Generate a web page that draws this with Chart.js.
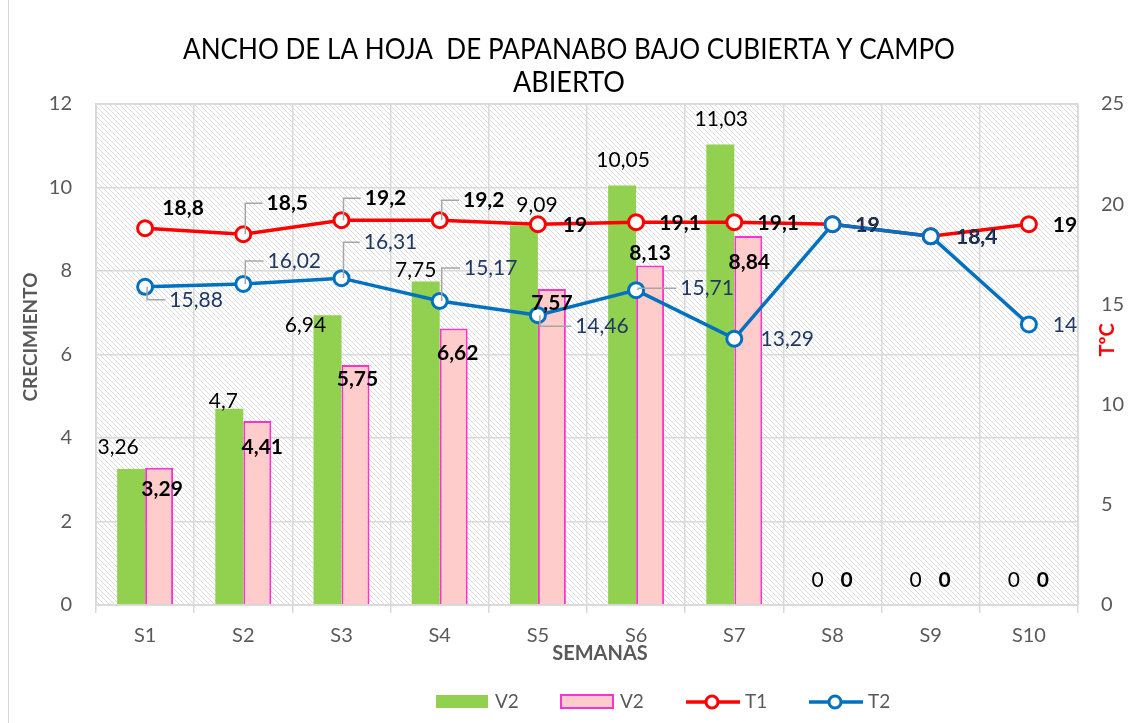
<!DOCTYPE html>
<html>
<head>
<meta charset="utf-8">
<script src="https://cdn.jsdelivr.net/npm/chart.js"></script>
<style>
  body { margin: 0; background: #fff; }
  #myChart { display: block; }
</style>
</head>
<body>
<canvas id="myChart" width="1129" height="723"></canvas>
<script>
// datos
const semanas = ['S1', 'S2', 'S3', 'S4', 'S5', 'S6', 'S7', 'S8', 'S9', 'S10'];
const v2Verde = [3.26, 4.7, 6.94, 7.75, 9.09, 10.05, 11.03, 0, 0, 0];
const v2Rosa = [3.29, 4.41, 5.75, 6.62, 7.57, 8.13, 8.84, 0, 0, 0];
const t1 = [18.8, 18.5, 19.2, 19.2, 19, 19.1, 19.1, 19, 18.4, 19];
const t2 = [15.88, 16.02, 16.31, 15.17, 14.46, 15.71, 13.29, 19, 18.4, 14];
const ticksCrecimiento = { min: 0, max: 12, step: 2 };
const ticksTemp = { min: 0, max: 25, step: 5 };

const gris = '#595959';
const fuente = 'Lato, "Open Sans", sans-serif';
Chart.defaults.font.family = fuente;

// donde va cada etiqueta respecto a su barra / punto (dx, dy)
const offVerde = [[-13,-22],[-6,-8],[-22,10],[-10,-11],[13,-20],[1,-25],[1,-25],[-1,-25],[-1,-25],[-1,-25]];
const offRosa = [[3,22],[5,26],[2,14],[4,25],[0,14],[0,-12],[1,26],[0,-25],[0,-25],[0,-25]];
const offT1 = [[38,-20],[44,-31],[44,-22],[44,-20],[37,1],[44,1],[44,1],[35,1],[46,1],[36,1]];
const offT2 = [[51,13],[51,-23],[49,-36],[51,-33],[64,11],[71,-2],[53,1],[35,1],[46,1],[36,1]];
const guiaT1 = [false, true, true, true, false, false, false, false, false, false];
const guiaT2 = [true, true, true, true, true, true, false, false, false, false];

function numero(v) {
    return String(v).replace('.', ',');
}

function rayado(ctx) {
    const c = document.createElement('canvas');
    c.width = 5; c.height = 5;
    const g = c.getContext('2d');
    g.fillStyle = '#ffffff';
    g.fillRect(0, 0, 5, 5);
    g.strokeStyle = '#dcdcdc';
    g.lineWidth = 1;
    g.beginPath();
    g.moveTo(-1, -1); g.lineTo(6, 6);
    g.moveTo(-1, 4); g.lineTo(1, 6);
    g.moveTo(4, -1); g.lineTo(6, 1);
    g.stroke();
    return ctx.createPattern(c, 'repeat');
}

const fondo = {
    id: 'fondo',
    beforeDraw(chart) {
        const { ctx, chartArea: a } = chart;
        ctx.save();
        ctx.fillStyle = '#fff';
        ctx.fillRect(0, 0, chart.width, chart.height);
        ctx.fillStyle = rayado(ctx);
        ctx.fillRect(a.left, a.top, a.right - a.left, a.bottom - a.top);
        ctx.restore();
    }
};

const etiquetas = {
    id: 'etiquetas',
    afterDatasetsDraw(chart) {
        const ctx = chart.ctx;
        const a = chart.chartArea;
        ctx.save();
        ctx.strokeStyle = '#d9d9d9';
        ctx.lineWidth = 1.5;
        ctx.strokeRect(a.left, a.top, a.right - a.left, a.bottom - a.top);

        chart.data.datasets.forEach((ds, di) => {
            const meta = chart.getDatasetMeta(di);
            const st = ds.etiqueta;
            ctx.font = st.font;
            ctx.fillStyle = st.color;
            ctx.textAlign = 'center';
            ctx.textBaseline = 'middle';
            meta.data.forEach((el, i) => {
                const txt = numero(ds.data[i]);
                const lx = el.x + st.off[i][0];
                const ly = el.y + st.off[i][1];
                if (st.guia && st.guia[i]) {
                    const w = ctx.measureText(txt).width;
                    ctx.save();
                    ctx.strokeStyle = '#a6a6a6';
                    ctx.lineWidth = 1.5;
                    ctx.beginPath();
                    ctx.moveTo(el.x + 2, el.y);
                    ctx.lineTo(el.x + 2, ly);
                    ctx.lineTo(lx - w / 2 - 4, ly);
                    ctx.stroke();
                    ctx.restore();
                }
                ctx.fillText(txt, lx, ly);
            });
        });
        ctx.restore();
    },
    afterDraw(chart) {
        const ctx = chart.ctx;
        const a = chart.chartArea;
        ctx.save();
        // borde exterior
        ctx.strokeStyle = '#d9d9d9';
        ctx.lineWidth = 1;
        ctx.beginPath();
        ctx.moveTo(8.5, 0);
        ctx.lineTo(8.5, chart.height);
        ctx.stroke();

        // título
        ctx.fillStyle = '#000';
        ctx.textAlign = 'center';
        ctx.textBaseline = 'alphabetic';
        ctx.font = '29px ' + fuente;
        ctx.fillText('ANCHO DE LA HOJA  DE PAPANABO BAJO CUBIERTA Y CAMPO', 569, 59, 772);
        ctx.fillText('ABIERTO', 569, 92, 112);

        // títulos de ejes
        ctx.textBaseline = 'middle';
        ctx.fillStyle = gris;
        ctx.font = 'bold 20px ' + fuente;
        ctx.fillText('SEMANAS', (a.left + a.right) / 2 + 13, 654);

        ctx.save();
        ctx.translate(31, 337);
        ctx.rotate(-Math.PI / 2);
        ctx.font = 'bold 19px ' + fuente;
        ctx.fillText('CRECIMIENTO', 0, 0);
        ctx.restore();

        ctx.save();
        ctx.translate(1108, 340);
        ctx.rotate(-Math.PI / 2);
        ctx.fillStyle = '#ff0000';
        ctx.font = 'bold 20px ' + fuente;
        ctx.fillText('TºC', 0, 0);
        ctx.restore();

        // leyenda
        const ly = 702;
        const xs = [436, 561, 686, 809];
        ctx.font = '19px ' + fuente;
        ctx.textAlign = 'left';
        chart.data.datasets.forEach((ds, di) => {
            const x = xs[di];
            if (ds.type === 'line') {
                ctx.strokeStyle = ds.borderColor;
                ctx.lineWidth = 3.5;
                ctx.beginPath();
                ctx.moveTo(x, ly);
                ctx.lineTo(x + 54, ly);
                ctx.stroke();
                ctx.fillStyle = '#fff';
                ctx.lineWidth = 3;
                ctx.beginPath();
                ctx.arc(x + 26, ly, 6, 0, Math.PI * 2);
                ctx.fill();
                ctx.stroke();
            } else {
                ctx.fillStyle = ds.backgroundColor;
                ctx.fillRect(x, ly - 7, 52, 13);
                if (ds.borderWidth) {
                    ctx.strokeStyle = ds.borderColor;
                    ctx.lineWidth = 2;
                    ctx.strokeRect(x, ly - 7, 52, 13);
                }
            }
            ctx.fillStyle = gris;
            ctx.fillText(ds.label, x + 59, ly);
        });
        ctx.restore();
    }
};

const ctx = document.getElementById('myChart');

new Chart(ctx, {
    type: 'bar',
    data: {
        labels: semanas,
        datasets: [
            {
                label: 'V2',
                data: v2Verde,
                backgroundColor: '#92d050',
                borderWidth: 0,
                yAxisID: 'y',
                order: 2,
                categoryPercentage: 0.57,
                barPercentage: 1,
                etiqueta: { font: '21px ' + fuente, color: '#000', off: offVerde }
            },
            {
                label: 'V2',
                data: v2Rosa,
                backgroundColor: '#ffcccc',
                borderColor: '#ff33cc',
                borderWidth: 2,
                yAxisID: 'y',
                order: 2,
                categoryPercentage: 0.57,
                barPercentage: 1,
                etiqueta: { font: 'bold 21px ' + fuente, color: '#000', off: offRosa }
            },
            {
                type: 'line',
                label: 'T1',
                data: t1,
                borderColor: '#ff0000',
                borderWidth: 3.5,
                pointRadius: 7.5,
                pointBorderWidth: 3,
                pointBackgroundColor: '#fff',
                pointBorderColor: '#ff0000',
                tension: 0,
                yAxisID: 'y1',
                order: 1,
                etiqueta: { font: 'bold 21px ' + fuente, color: '#000', off: offT1, guia: guiaT1 }
            },
            {
                type: 'line',
                label: 'T2',
                data: t2,
                borderColor: '#0070c0',
                borderWidth: 3.5,
                pointRadius: 7.5,
                pointBorderWidth: 3,
                pointBackgroundColor: '#fff',
                pointBorderColor: '#0070c0',
                tension: 0,
                yAxisID: 'y1',
                order: 0,
                etiqueta: { font: '21px ' + fuente, color: '#203864', off: offT2, guia: guiaT2 }
            }
        ]
    },
    options: {
        responsive: false,
        animation: false,
        devicePixelRatio: 1,
        layout: { padding: { top: 104, left: 0, right: 0, bottom: 0 } },
        plugins: {
            legend: { display: false },
            title: { display: false },
            tooltip: { enabled: false }
        },
        scales: {
            x: {
                offset: true,
                grid: { offset: true, color: '#d9d9d9', lineWidth: 1.5, tickLength: 8 },
                border: { color: '#d9d9d9', width: 1.5 },
                ticks: { color: gris, font: { size: 20 }, padding: 11, maxRotation: 0 },
                afterFit(scale) { scale.height = 118; }
            },
            y: {
                position: 'left',
                min: ticksCrecimiento.min,
                max: ticksCrecimiento.max,
                ticks: { stepSize: ticksCrecimiento.step, color: gris, font: { size: 20 }, padding: 24 },
                grid: { color: '#d9d9d9', lineWidth: 1.5, drawTicks: false },
                border: { color: '#d9d9d9', width: 1.5 },
                afterFit(scale) { scale.width = 96; }
            },
            y1: {
                position: 'right',
                min: ticksTemp.min,
                max: ticksTemp.max,
                ticks: { stepSize: ticksTemp.step, color: gris, font: { size: 20 }, padding: 23 },
                grid: { drawOnChartArea: false, drawTicks: false },
                border: { display: false },
                afterFit(scale) { scale.width = 51; }
            }
        }
    },
    plugins: [fondo, etiquetas]
});
</script>
</body>
</html>
